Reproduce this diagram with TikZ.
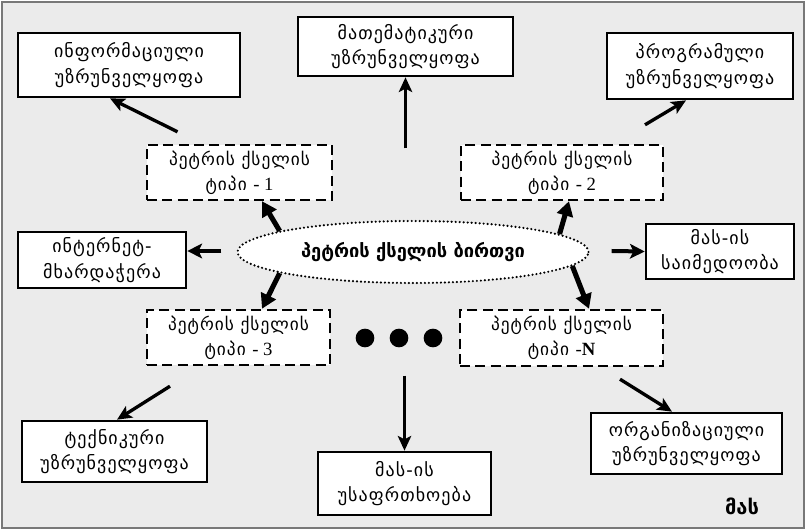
\documentclass[tikz,border=0pt]{standalone}
\usepackage{fontspec}
\setmainfont{Liberation Serif}
\newfontfamily\geo{DejaVu Sans}
\newfontfamily\geowide[LetterSpace=6]{DejaVu Sans}
\usetikzlibrary{arrows.meta,calc,shapes.geometric}

\definecolor{panel}{RGB}{235,235,235}
\definecolor{rim}{RGB}{120,120,120}

\begin{document}
\begin{tikzpicture}[x=0.75pt,y=-0.75pt,
  solidbox/.style={draw=black, line width=2pt, fill=white, align=center,
    inner sep=0pt, font=\geowide\fontsize{13.5}{19}\selectfont},
  typebox/.style={draw=black, line width=1.8pt, fill=white, align=center,
    inner sep=0pt, dash pattern=on 7.5pt off 4pt,
    font=\geowide\fontsize{13}{19}\selectfont},
  corenode/.style={ellipse, draw=black, fill=white, line width=1.8pt,
    line cap=round, dash pattern=on 0pt off 3pt, inner sep=0pt,
    minimum width=263.25pt, minimum height=46.5pt,
    font=\geo\bfseries\fontsize{13.7}{16}\selectfont},
  arr/.style={line width=2.5pt, -{Stealth[length=11pt,width=10pt,inset=2.5pt]}},
  sidearr/.style={line width=3pt, -{Stealth[length=11pt,width=11pt,inset=2.5pt]}},
  fatarr/.style={line width=3.8pt, -{Triangle[length=11pt,width=12pt]}},
  dot/.style={circle, fill=black, inner sep=0pt, minimum size=14pt}
]
% page and panel
\useasboundingbox (0,0) rectangle (806,530);
\draw[fill=panel, draw=rim, line width=0.9pt] (2,2) rectangle (804,528);

% central core
\node[corenode] (core) at (413,252) {პეტრის ქსელის ბირთვი};

% Petri net types (dashed)
\node[typebox, minimum width=138.75pt, minimum height=41.25pt] (t1) at (239.5,172.5)
  {პეტრის ქსელის\\ტიპი {\rmfamily\fontsize{14}{19}\selectfont - 1}};
\node[typebox, minimum width=151.5pt, minimum height=41.25pt] (t2) at (562,172.5)
  {პეტრის ქსელის\\ტიპი {\rmfamily\fontsize{14}{19}\selectfont - 2}};
\node[typebox, minimum width=137.25pt, minimum height=41.25pt] (t3) at (238.5,337.5)
  {პეტრის ქსელის\\ტიპი {\rmfamily\fontsize{14}{19}\selectfont - 3}};
\node[typebox, minimum width=152.25pt, minimum height=42pt] (tN) at (561.5,338)
  {პეტრის ქსელის\\ტიპი {\rmfamily\fontsize{14}{19}\selectfont -\textbf{N}}};

% supporting subsystems
\node[solidbox, minimum width=166.5pt, minimum height=48pt] (info) at (129,65)
  {ინფორმაციული\\უზრუნველყოფა};
\node[solidbox, minimum width=161.25pt, minimum height=44.25pt] (math) at (405.5,46.5)
  {მათემატიკური\\უზრუნველყოფა};
\node[solidbox, minimum width=139.5pt, minimum height=49.5pt] (prog) at (700,66)
  {პროგრამული\\უზრუნველყოფა};
\node[solidbox, minimum width=126pt, minimum height=42pt] (net) at (102,260)
  {ინტერნეტ-\\მხარდაჭერა};
\node[solidbox, minimum width=111pt, minimum height=41.25pt] (rel) at (720,251.5)
  {მას-ის\\საიმედოობა};
\node[solidbox, minimum width=138.75pt, minimum height=45.75pt] (tech) at (114.5,451.5)
  {ტექნიკური\\უზრუნველყოფა};
\node[solidbox, minimum width=129.75pt, minimum height=47.25pt] (sec) at (404.5,483.5)
  {მას-ის\\უსაფრთხოება};
\node[solidbox, minimum width=143.25pt, minimum height=45.75pt] (org) at (686.5,443.5)
  {ორგანიზაციული\\უზრუნველყოფა};

% ellipsis between type 3 and type N
\node[dot] (d1) at (365,338) {};
\node[dot] (d2) at (399,338) {};
\node[dot] (d3) at (433,338) {};

% caption
\node[font=\geo\bfseries\fontsize{15}{17}\selectfont] (cap) at (742,506) {მას};

% core to types
\draw[fatarr] (core.171) -- ($(t1.south)+(22.5,0)$);
\draw[fatarr] (core.189) -- ($(t3.north)+(23.5,0)$);
\draw[fatarr] (core.7) -- ($(t2.south)+(7,0)$);
\draw[fatarr] (core.-5) -- ($(tN.north)+(27.5,0)$);

% core to side boxes
\draw[sidearr] ($(core.west)+(-15,-1)$) -- ($(net.east)+(0,-9)$);
\draw[sidearr] ($(core.east)+(22,-1)$) -- (rel.west);

% types to subsystems
\draw[arr] ($(t1.north)+(-62,-12)$) -- ($(info.south)+(-19,0)$);
\draw[arr] ($(math.south)+(0,71)$) -- (math.south);
\draw[arr] ($(t2.north)+(83,-19)$) -- ($(prog.south)+(-14,0)$);
\draw[arr] ($(t3.south)+(-68.5,20)$) -- ($(tech.north)+(2.5,0)$);
\draw[arr] ($(sec.north)+(0,-75)$) -- (sec.north);
\draw[arr] ($(tN.south)+(58.5,12)$) -- ($(org.north)+(-14.5,0)$);
\end{tikzpicture}
\end{document}
